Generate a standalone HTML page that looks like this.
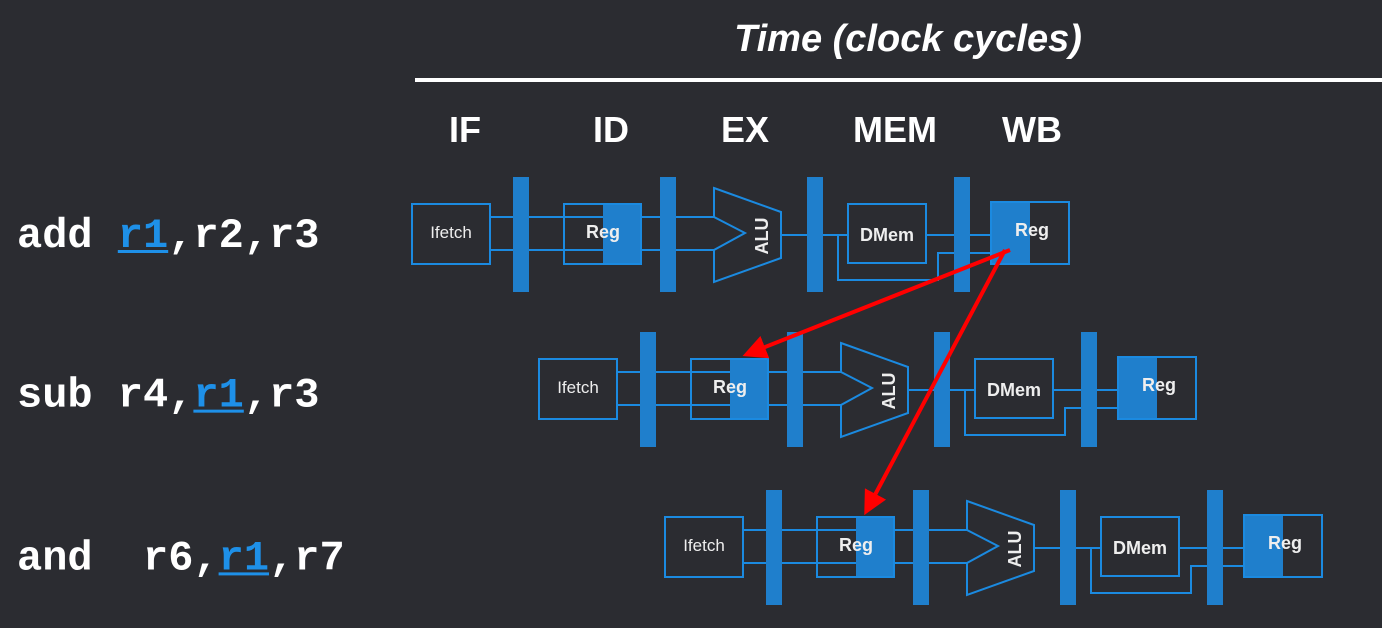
<!DOCTYPE html>
<html><head><meta charset="utf-8"><style>
html,body{margin:0;padding:0;background:#2b2c31;}
svg{display:block;}
</style></head><body>
<svg id="c" width="1382" height="628" viewBox="0 0 1382 628" xmlns="http://www.w3.org/2000/svg">
<rect width="1382" height="628" fill="#2b2c31"/>
<text x="908" y="51" text-anchor="middle" font-family="Liberation Sans, sans-serif" font-weight="bold" font-style="italic" font-size="38" fill="#ffffff">Time (clock cycles)</text>
<rect x="415" y="78" width="967" height="4" fill="#ffffff"/>
<g id="stages" font-family="Liberation Sans, sans-serif" font-weight="bold" font-size="36" fill="#ffffff" text-anchor="middle"></g>
<g id="instr" font-family="Liberation Mono, monospace" font-weight="bold" font-size="42" fill="#ffffff"></g>
<g id="pipes"></g>
<g id="arrows"></g>
</svg>
<script>
const stageLabels = ["IF","ID","EX","MEM","WB"];
const stageX = [465,611,745,895,1032];
const instrText = [["add ","r1",",r2,r3"],["sub r4,","r1",",r3"],["and  r6,","r1",",r7"]];
const rowDx = [0,127,253];
const rowDy = [0,155,313];
const NS="http://www.w3.org/2000/svg";
function el(tag,attrs,parent){const e=document.createElementNS(NS,tag);for(const k in attrs)e.setAttribute(k,attrs[k]);parent.appendChild(e);return e;}
const sg=document.getElementById('stages');
stageLabels.forEach((s,i)=>{const t=el('text',{x:stageX[i],y:142},sg);t.textContent=s;

});
const ig=document.getElementById('instr');
instrText.forEach((p,i)=>{const t=el('text',{x:17,y:247+rowDy[i]*1.03,'xml:space':'preserve'},ig);


t.style.whiteSpace='pre';
const a=el('tspan',{},t);a.textContent=p[0];
const b=el('tspan',{fill:'#1e90e8'},t);b.textContent=p[1];
const c=el('tspan',{},t);c.textContent=p[2];
const w=25.2;const ux=17+p[0].length*w;
const u=el('rect',{x:ux,y:250+rowDy[i]*1.03,width:w*2,height:3,fill:'#1e90e8'},ig);


});
const pg=document.getElementById('pipes');
const B='#1f7fcc',L='#1b8ae0',F='#2b2c31';
rowDx.forEach((dx,i)=>{
const g=el('g',{transform:`translate(${dx},${rowDy[i]})`},pg);


const ln={stroke:L,'stroke-width':2,fill:'none'};
el('path',Object.assign({d:'M490 217H714 M490 250H714 M781 235H991 M838 235V280H938V253H991'},ln),g);
el('rect',Object.assign({x:412,y:204,width:78,height:60},ln,{fill:F}),g);
const t1=el('text',{x:451,y:238,'text-anchor':'middle','font-family':'Liberation Sans, sans-serif','font-size':17,fill:'#eee'},g);t1.textContent='Ifetch';
el('rect',{x:603,y:204,width:38,height:60,fill:B},g);
el('rect',Object.assign({x:564,y:204,width:77,height:60},ln),g);
const t2=el('text',{x:603,y:238,'text-anchor':'middle','font-family':'Liberation Sans, sans-serif','font-size':18,'font-weight':'bold',fill:'#eee'},g);t2.textContent='Reg';
el('path',Object.assign({d:'M714 188L781 212V258L714 282V250L745 233L714 217Z'},ln,{fill:F}),g);
const t3=el('text',{x:0,y:0,transform:'translate(768,236) rotate(-90)','text-anchor':'middle','font-family':'Liberation Sans, sans-serif','font-size':18,'font-weight':'bold',fill:'#eee'},g);t3.textContent='ALU';
el('rect',Object.assign({x:848,y:204,width:78,height:59},ln,{fill:F}),g);
el('path',{d:'M926 235H991',stroke:L,'stroke-width':2},g);
const t4=el('text',{x:887,y:241,'text-anchor':'middle','font-family':'Liberation Sans, sans-serif','font-size':18,'font-weight':'bold',fill:'#eee'},g);t4.textContent='DMem';
el('rect',{x:991,y:202,width:39,height:62,fill:B},g);
el('rect',Object.assign({x:991,y:202,width:78,height:62},ln),g);
const t5=el('text',{x:1032,y:236,'text-anchor':'middle','font-family':'Liberation Sans, sans-serif','font-size':18,'font-weight':'bold',fill:'#eee'},g);t5.textContent='Reg';
[513,660,807,954].forEach(x=>el('rect',{x:x,y:177,width:16,height:115,fill:B},g));
});
const ag=document.getElementById('arrows');
el('defs',{},ag).innerHTML='<marker id="ah" markerWidth="6" markerHeight="6" refX="4" refY="3" orient="auto" markerUnits="strokeWidth"><path d="M0,0L6,3L0,6Z" fill="#ff0000"/></marker>';
const a1=el('path',{d:'M1010 250L750 353',stroke:'#ff0000','stroke-width':4,'marker-end':'url(#ah)'},ag);


const a2=el('path',{d:'M1005 250L868 508',stroke:'#ff0000','stroke-width':4,'marker-end':'url(#ah)'},ag);


</script>
</body></html>
